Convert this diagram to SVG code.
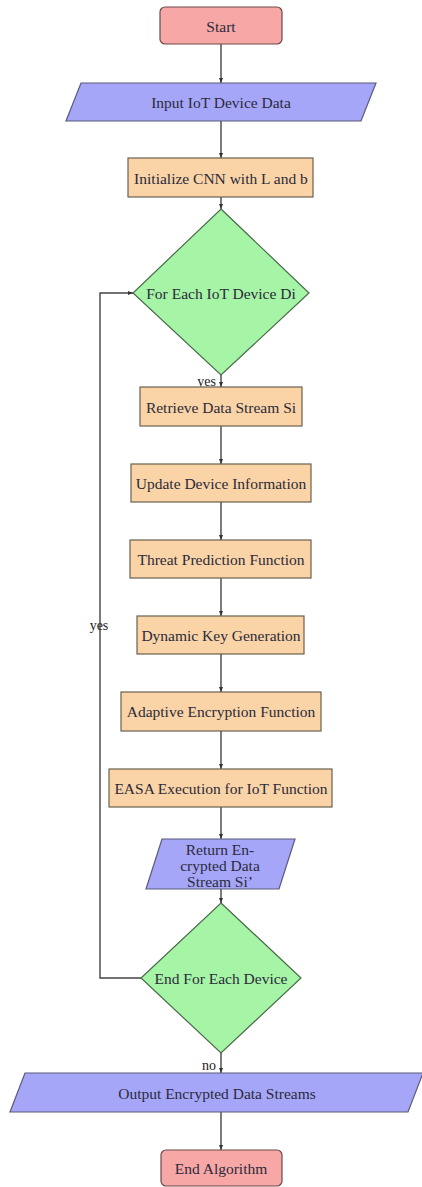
<svg xmlns="http://www.w3.org/2000/svg" width="422" height="1187" viewBox="0 0 422 1187">
<style>
.t{font-family:"Liberation Serif","Times New Roman",serif;font-size:15.5px;fill:#2a2a3a;text-anchor:middle;dominant-baseline:central}
.lbl{font-family:"Liberation Serif","Times New Roman",serif;font-size:14px;fill:#222;dominant-baseline:central}
.term{fill:#F8A7A7;stroke:#6a4a4a;stroke-width:1.2}
.io{fill:#A6A6F8;stroke:#5a5a7a;stroke-width:1.2}
.proc{fill:#FAD4A6;stroke:#6a6050;stroke-width:1.2}
.dec{fill:#A6F4A6;stroke:#4a6a4a;stroke-width:1.2}
.c{fill:none;stroke:#444;stroke-width:1.4;marker-end:url(#ah)}
</style>
<defs>
<marker id="ah" viewBox="0 0 10 10" refX="10" refY="5" markerWidth="5" markerHeight="5" orient="auto" markerUnits="userSpaceOnUse">
<path d="M0,1 L10,5 L0,9 z" fill="#333"/>
</marker>
</defs>
<rect width="422" height="1187" fill="#ffffff"/>
<g id="connectors">
<line class="c" x1="221" y1="44" x2="221" y2="83"/>
<line class="c" x1="221" y1="121" x2="221" y2="158"/>
<line class="c" x1="221" y1="197" x2="221" y2="209"/>
<line class="c" x1="221" y1="375" x2="221" y2="387"/>
<line class="c" x1="221" y1="426" x2="221" y2="464"/>
<line class="c" x1="221" y1="502" x2="221" y2="540"/>
<line class="c" x1="221" y1="578" x2="221" y2="616"/>
<line class="c" x1="221" y1="654" x2="221" y2="692"/>
<line class="c" x1="221" y1="731" x2="221" y2="769"/>
<line class="c" x1="221" y1="807" x2="221" y2="839"/>
<line class="c" x1="221" y1="889" x2="221" y2="903"/>
<line class="c" x1="221" y1="1053" x2="221" y2="1073"/>
<line class="c" x1="221" y1="1112" x2="221" y2="1150"/>
<polyline class="c" points="141,978 100,978 100,293 133,293"/>
<text class="lbl" x="216" y="381" text-anchor="end">yes</text>
<text class="lbl" x="99" y="625" text-anchor="middle">yes</text>
<text class="lbl" x="216" y="1065" text-anchor="end">no</text>
</g>
<g id="start">
<rect class="term" x="160" y="7" width="122" height="37" rx="5"/>
<text class="t" x="221" y="26">Start</text>
</g>
<g id="input">
<polygon class="io" points="81,83 376,83 361,121 66,121"/>
<text class="t" x="221" y="102">Input IoT Device Data</text>
</g>
<g id="init">
<rect class="proc" x="128" y="158" width="185" height="39"/>
<text class="t" x="221" y="178">Initialize CNN with L and b</text>
</g>
<g id="foreach">
<polygon class="dec" points="221,209 309,293 221,375 133,293"/>
<text class="t" x="221" y="293">For Each IoT Device Di</text>
</g>
<g id="retrieve">
<rect class="proc" x="140" y="387" width="162" height="39"/>
<text class="t" x="221" y="407">Retrieve Data Stream Si</text>
</g>
<g id="update">
<rect class="proc" x="131" y="464" width="180" height="38"/>
<text class="t" x="221" y="483">Update Device Information</text>
</g>
<g id="threat">
<rect class="proc" x="130" y="540" width="181" height="38"/>
<text class="t" x="221" y="559">Threat Prediction Function</text>
</g>
<g id="dynamic">
<rect class="proc" x="137" y="616" width="167" height="38"/>
<text class="t" x="221" y="635">Dynamic Key Generation</text>
</g>
<g id="adaptive">
<rect class="proc" x="121" y="692" width="200" height="39"/>
<text class="t" x="221" y="711">Adaptive Encryption Function</text>
</g>
<g id="easa">
<rect class="proc" x="109" y="769" width="223" height="38"/>
<text class="t" x="221" y="788">EASA Execution for IoT Function</text>
</g>
<g id="return">
<polygon class="io" points="162,839 295,839 279,889 146,889"/>
<text class="t" x="220" y="849">Return En-</text>
<text class="t" x="220" y="865">crypted Data</text>
<text class="t" x="220" y="881">Stream Si’</text>
</g>
<g id="endforeach">
<polygon class="dec" points="221,903 301,978 221,1053 141,978"/>
<text class="t" x="221" y="978">End For Each Device</text>
</g>
<g id="output">
<polygon class="io" points="25,1073 423,1073 408,1112 10,1112"/>
<text class="t" x="217" y="1093">Output Encrypted Data Streams</text>
</g>
<g id="end">
<rect class="term" x="161" y="1150" width="121" height="36" rx="5"/>
<text class="t" x="221" y="1168">End Algorithm</text>
</g>
</svg>
